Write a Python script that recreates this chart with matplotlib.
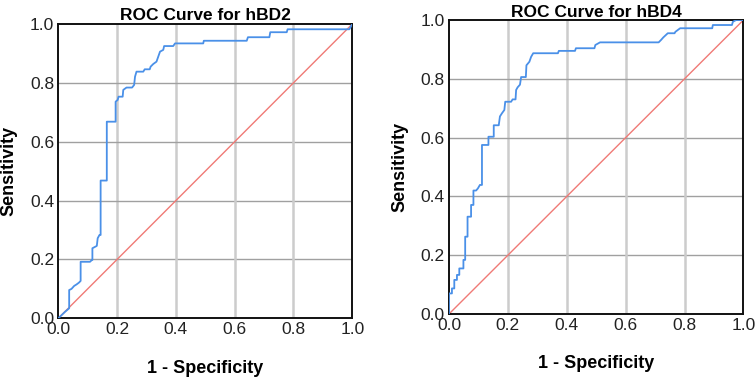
import matplotlib.pyplot as plt

plt.rcParams['font.family'] = ['Liberation Sans', 'DejaVu Sans']

# ROC points for hBD2 (1 - specificity, sensitivity)
fpr_hbd2 = [0.0, 0.023, 0.037, 0.037, 0.045, 0.054, 0.062, 0.070, 0.076, 0.076,
            0.108, 0.114, 0.116, 0.116, 0.131, 0.134, 0.140, 0.144, 0.144, 0.165,
            0.165, 0.195, 0.195, 0.202, 0.205, 0.219, 0.221, 0.232, 0.251, 0.258,
            0.261, 0.266, 0.289, 0.294, 0.311, 0.314, 0.323, 0.334, 0.340, 0.346,
            0.357, 0.360, 0.391, 0.397, 0.493, 0.495, 0.641, 0.645, 0.718, 0.721,
            0.777, 0.780, 0.990, 1.0]
tpr_hbd2 = [0.0, 0.022, 0.034, 0.096, 0.100, 0.110, 0.115, 0.121, 0.127, 0.192,
            0.192, 0.198, 0.198, 0.238, 0.246, 0.272, 0.283, 0.283, 0.468, 0.468,
            0.668, 0.668, 0.736, 0.742, 0.753, 0.753, 0.776, 0.784, 0.784, 0.793,
            0.821, 0.838, 0.838, 0.846, 0.846, 0.855, 0.864, 0.872, 0.889, 0.906,
            0.912, 0.925, 0.925, 0.934, 0.934, 0.943, 0.943, 0.955, 0.955, 0.972,
            0.972, 0.982, 0.982, 1.0]

# ROC points for hBD4
fpr_hbd4 = [0.0, 0.0, 0.010, 0.010, 0.018, 0.018, 0.027, 0.027, 0.035, 0.035,
            0.049, 0.049, 0.055, 0.055, 0.063, 0.063, 0.075, 0.075, 0.083, 0.083,
            0.092, 0.098, 0.105, 0.112, 0.112, 0.134, 0.134, 0.152, 0.152, 0.169,
            0.173, 0.180, 0.188, 0.191, 0.211, 0.216, 0.226, 0.228, 0.233, 0.241,
            0.245, 0.261, 0.263, 0.273, 0.279, 0.286, 0.370, 0.373, 0.428, 0.431,
            0.494, 0.497, 0.513, 0.712, 0.720, 0.728, 0.743, 0.766, 0.769, 0.785,
            0.894, 0.896, 0.961, 0.964, 0.975, 1.0]
tpr_hbd4 = [0.0, 0.070, 0.070, 0.087, 0.087, 0.116, 0.116, 0.133, 0.133, 0.155,
            0.155, 0.184, 0.184, 0.263, 0.263, 0.331, 0.331, 0.371, 0.371, 0.420,
            0.420, 0.427, 0.439, 0.439, 0.575, 0.575, 0.603, 0.603, 0.642, 0.642,
            0.672, 0.683, 0.694, 0.722, 0.722, 0.730, 0.730, 0.762, 0.771, 0.780,
            0.806, 0.806, 0.846, 0.858, 0.875, 0.887, 0.887, 0.895, 0.895, 0.904,
            0.904, 0.915, 0.924, 0.924, 0.932, 0.941, 0.955, 0.955, 0.960, 0.972,
            0.972, 0.983, 0.983, 0.994, 1.0, 1.0]

ticks = [0.0, 0.2, 0.4, 0.6, 0.8, 1.0]
tick_labels = ['0.0', '0.2', '0.4', '0.6', '0.8', '1.0']

fig = plt.figure(figsize=(7.56, 3.77), dpi=100)
ax1 = fig.add_axes([0.0771, 0.1557, 0.3889, 0.7807])
ax2 = fig.add_axes([0.5939, 0.1671, 0.3895, 0.7798])

for ax, fpr, tpr, title, tpad in [(ax1, fpr_hbd2, tpr_hbd2, 'ROC Curve for hBD2', 3),
                                  (ax2, fpr_hbd4, tpr_hbd4, 'ROC Curve for hBD4', 1)]:
    ax.set_xlim(0, 1)
    ax.set_ylim(0, 1)
    ax.set_xticks(ticks)
    ax.set_yticks(ticks)
    ax.set_xticklabels(tick_labels)
    ax.set_yticklabels(tick_labels)
    ax.tick_params(length=0, labelsize=12.5, pad=3, colors='#222222')
    for t in ticks[1:-1]:
        ax.axvline(t, color='#cccccc', lw=1.8, zorder=0)
        ax.axhline(t, color='#a0a0a0', lw=1.0, zorder=0)
    ax.plot([0, 1], [0, 1], color='#f07a76', lw=1.0, zorder=2)
    ax.plot(fpr, tpr, color='#4a90e8', lw=1.3, zorder=3)
    for s in ax.spines.values():
        s.set_linewidth(1.4)
        s.set_color('#111111')
    ax.set_title(title, fontsize=12.5, fontweight='bold', pad=tpad)
    ax.set_xlabel('1 - Specificity', fontsize=13, fontweight='bold', labelpad=16)
    ax.set_ylabel('Sensitivity', fontsize=13, fontweight='bold', labelpad=9)

fig.savefig('out.png', dpi=100)
